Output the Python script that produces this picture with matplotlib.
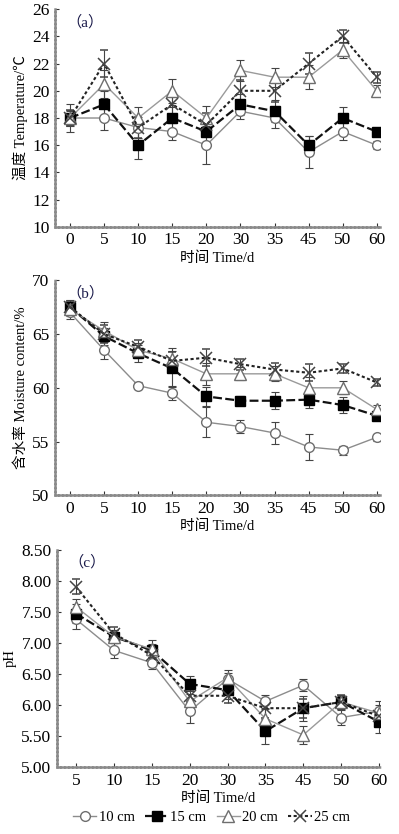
import numpy as np
import matplotlib.pyplot as plt
from matplotlib.lines import Line2D

plt.rcParams['font.family'] = ['Liberation Serif', 'Noto Sans CJK SC', 'DejaVu Sans']

# time points
days_ab = ['0', '5', '10', '15', '20', '30', '35', '45', '50', '60']
days_c = ['5', '10', '15', '20', '30', '35', '45', '50', '60']
depths = ['10 cm', '15 cm', '20 cm', '25 cm']

# (a) temperature
temp_10 = [18, 18, 17.3, 17, 16, 18.5, 18, 15.5, 17, 16]
temp_15 = [18, 19, 16, 18, 17, 19, 18.5, 16, 18, 17]
temp_20 = [18, 20.5, 18, 20, 18, 21.5, 21, 21, 23, 20]
temp_25 = [18, 22, 17.3, 19, 17.5, 20, 20, 22, 24, 21]
temp_err_10 = [0.5, 0.9, 0.8, 0.6, 1.4, 0.6, 0.7, 1.2, 0.6, 0.3]
temp_err_15 = [1.0, 1.0, 1.0, 0.8, 0.8, 0.8, 0.8, 0.7, 0.8, 0.3]
temp_err_20 = [0.6, 1.0, 0.8, 0.9, 0.9, 0.8, 0.7, 0.9, 0.6, 0.4]
temp_err_25 = [0.6, 1.0, 0.8, 0.8, 0.9, 0.8, 0.8, 0.8, 0.5, 0.4]

# (b) moisture content
mc_10 = [67, 63.5, 60.2, 59.5, 56.8, 56.4, 55.8, 54.5, 54.2, 55.4]
mc_15 = [67.5, 64.8, 63.2, 61.8, 59.2, 58.8, 58.8, 58.9, 58.4, 57.4]
mc_20 = [67.3, 65.3, 63.5, 62.7, 61.3, 61.3, 61.3, 60, 60, 58]
mc_25 = [67.5, 65, 63.8, 62.5, 62.8, 62.2, 61.7, 61.4, 61.8, 60.5]
mc_err_10 = [0.6, 0.8, 0.3, 0.6, 1.4, 0.6, 1.0, 1.2, 0.4, 0.3]
mc_err_15 = [0.7, 0.8, 0.8, 1.6, 0.9, 0.4, 0.8, 0.8, 0.7, 0.3]
mc_err_20 = [0.6, 0.8, 0.7, 1.0, 1.0, 0.6, 0.7, 1.0, 0.6, 0.4]
mc_err_25 = [0.6, 0.8, 0.6, 0.8, 0.8, 0.5, 0.6, 0.8, 0.4, 0.3]

# (c) pH
ph_10 = [7.38, 6.88, 6.68, 5.9, 6.42, 6.06, 6.32, 5.8, 5.9]
ph_15 = [7.47, 7.1, 6.88, 6.34, 6.24, 5.58, 5.95, 6.05, 5.73]
ph_20 = [7.58, 7.1, 6.9, 6.06, 6.44, 5.78, 5.52, 6.05, 5.87]
ph_25 = [7.9, 7.15, 6.8, 6.15, 6.15, 5.95, 5.95, 6.05, 5.82]
ph_err_10 = [0.15, 0.12, 0.1, 0.18, 0.1, 0.1, 0.1, 0.12, 0.1]
ph_err_15 = [0.15, 0.1, 0.1, 0.12, 0.15, 0.2, 0.2, 0.1, 0.18]
ph_err_20 = [0.12, 0.1, 0.15, 0.12, 0.12, 0.15, 0.15, 0.12, 0.2]
ph_err_25 = [0.12, 0.1, 0.1, 0.1, 0.12, 0.15, 0.15, 0.12, 0.1]

styles = [
    dict(color='#8c8c8c', ls='-', lw=1.0, marker='o', mfc='white', mec='#6e6e6e', ms=7),
    dict(color='#111111', ls=(0, (4, 1.5)), lw=1.6, marker='s', mfc='black', mec='black', ms=7),
    dict(color='#9a9a9a', ls='-', lw=1.0, marker='^', mfc='white', mec='#6e6e6e', ms=8),
    dict(color='#222222', ls=(0, (1.5, 1.2)), lw=1.5, marker='x', mfc='none', mec='#444444', ms=8, mew=1.1),
]

fig = plt.figure(figsize=(3.99, 8.34), dpi=100)


def draw(rect, cats, series, errs, ylim, yticks, ylabel, tag, xlim, yfmt='{:g}'):
    ax = fig.add_axes(rect)
    x = np.arange(len(cats))
    for s, e, st in zip(series, errs, styles):
        ax.errorbar(x, s, yerr=e, capsize=3, elinewidth=0.8, ecolor='#444444',
                    capthick=0.8, **st)
    ax.set_xlim(*xlim)
    ax.set_ylim(*ylim)
    ax.set_xticks(x)
    ax.set_xticklabels(cats)
    ax.set_yticks(yticks)
    ax.set_yticklabels([yfmt.format(t) for t in yticks])
    ax.tick_params(direction='in', length=3, labelsize=12.5, colors='#333333',
                   labelcolor='black', pad=4)
    for side in ['top', 'right']:
        ax.spines[side].set_visible(False)
    for side in ['left', 'bottom']:
        ax.spines[side].set_color('#8a8a8a')
        ax.spines[side].set_linewidth(1.8)
        ax.spines[side].set_linestyle((0, (1, 0.6)))
    ax.set_xlabel('时间 Time/d', fontsize=10.5, labelpad=2)
    ax.set_ylabel(ylabel, fontsize=10.5, labelpad=3)
    ax.text(0.035, 0.975, tag, transform=ax.transAxes, fontsize=11,
            color='#1a1a4a', va='top', ha='left')
    return ax


draw([0.138, 0.728, 0.814, 0.261], days_ab,
     [temp_10, temp_15, temp_20, temp_25],
     [temp_err_10, temp_err_15, temp_err_20, temp_err_25],
     (10, 26), np.arange(10, 27, 2), '温度 Temperature/℃', '（a）', (-0.44, 9.09))

draw([0.138, 0.406, 0.814, 0.258], days_ab,
     [mc_10, mc_15, mc_20, mc_25],
     [mc_err_10, mc_err_15, mc_err_20, mc_err_25],
     (50, 70), np.arange(50, 71, 5), '含水率 Moisture content/%', '（b）', (-0.44, 9.09))

draw([0.143, 0.080, 0.809, 0.261], days_c,
     [ph_10, ph_15, ph_20, ph_25],
     [ph_err_10, ph_err_15, ph_err_20, ph_err_25],
     (5, 8.5), np.arange(5, 8.51, 0.5), 'pH', '（c）', (-0.5, 8.02), yfmt='{:.2f}')

handles = [Line2D([], [], **st) for st in styles]
fig.legend(handles, depths, loc='lower center', bbox_to_anchor=(0.53, 0.0),
           ncol=4, frameon=False, fontsize=10.5, handlelength=1.6,
           handletextpad=0.15, columnspacing=0.7, borderaxespad=0.3)

fig.savefig('out.png', dpi=100)
